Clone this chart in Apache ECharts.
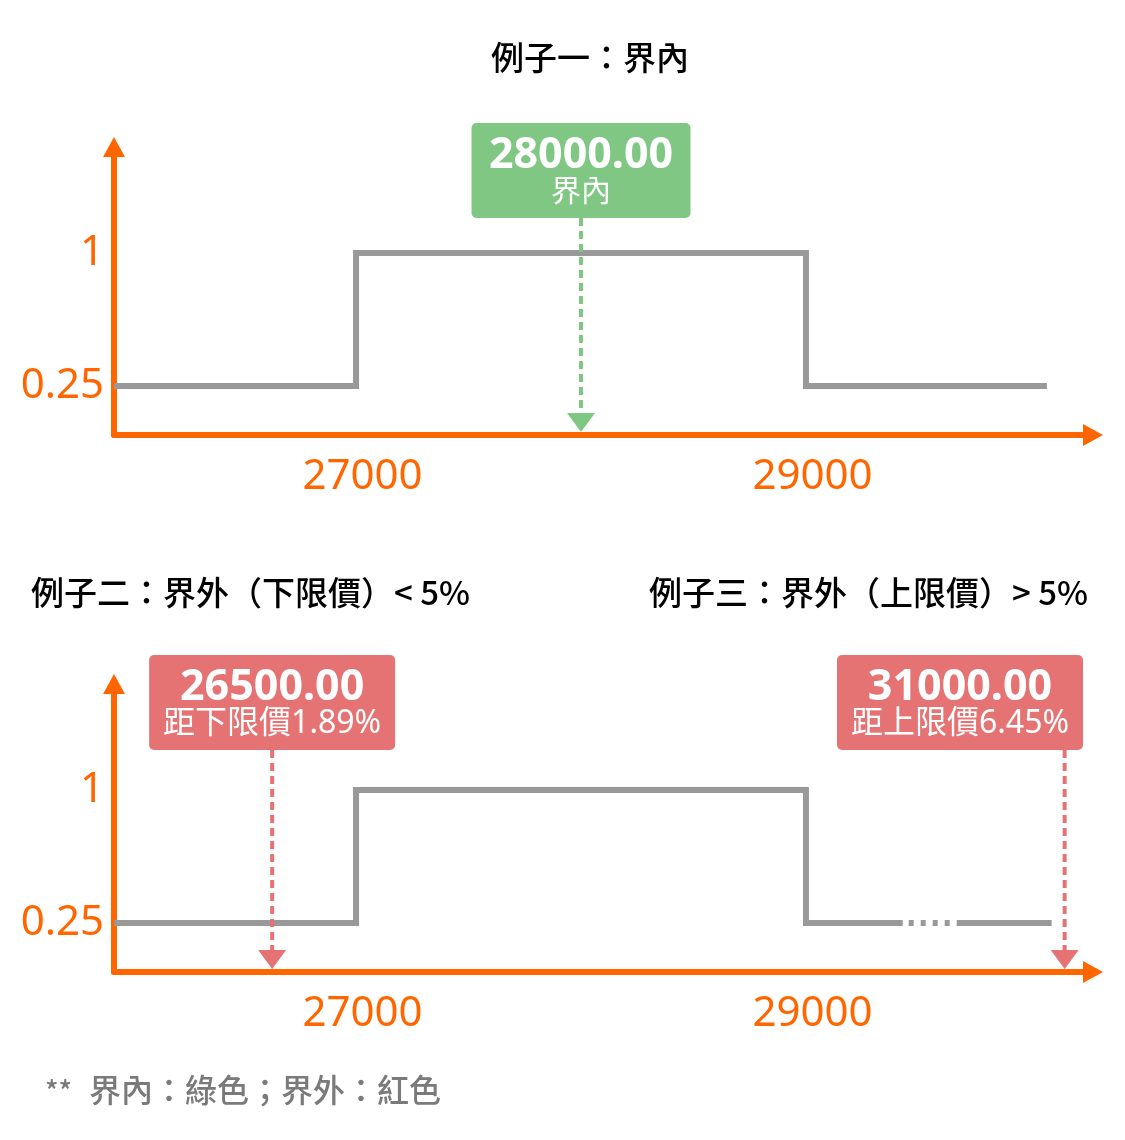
<!DOCTYPE html>
<html>
<head>
<meta charset="utf-8">
<script src="https://cdn.jsdelivr.net/npm/echarts@6/dist/echarts.min.js"></script>
<style>
  html, body { margin: 0; padding: 0; background: #ffffff; }
  #chart { width: 1125px; height: 1140px; }
</style>
</head>
<body>
<div id="chart"></div>
<script>
// Price band: inside [lower, upper] the score is 1, outside it is 0.25
const bandBounds = [27000, 29000];
const scoreTicks = [0.25, 1];

// Step profile of the score against price, one per panel
const topProfile = [[25924, 0.25], [27000, 0.25], [27000, 1], [29000, 1], [29000, 0.25], [30071, 0.25]];
const bottomProfile = [[25797, 0.25], [27000, 0.25], [27000, 1], [29000, 1], [29000, 0.25], [29430, 0.25]];
const bottomElided = [[29430, 0.25], [30520, 0.25]];
const bottomTail = [[30520, 0.25], [30942, 0.25]];

// Example prices pointed at on each panel
const topPrices = [28000];
const bottomPrices = [26500, 31000];

const ORANGE = '#FF6600';
const GREY = '#999999';
const GREEN = '#81C784';
const RED = '#E57373';
const LATIN = '"Noto Sans", "Noto Sans CJK TC", sans-serif';
const CJK = '"Noto Sans CJK TC", "Noto Sans", sans-serif';

function describe(price) {
  const lo = bandBounds[0], hi = bandBounds[1];
  if (price < lo) {
    return { color: RED, width: 246, tagSize: 32, tag: '距下限價' + ((lo - price) / price * 100).toFixed(2) + '%' };
  }
  if (price > hi) {
    return { color: RED, width: 246, tagSize: 32, tag: '距上限價' + ((price - hi) / price * 100).toFixed(2) + '%' };
  }
  return { color: GREEN, width: 219, tagSize: 30, tag: '界內' };
}

// Callout box + dashed pointer dropping onto the price axis
function markerRenderer(boxOffset, rightLimit) {
  return function (params, api) {
    const price = api.value(0);
    const cs = params.coordSys;
    const x = api.coord([price, 0])[0];
    const axisY = cs.y + cs.height;
    const d = describe(price);
    const boxH = 95;
    const boxTop = cs.y + boxOffset;
    let boxLeft = x - d.width / 2;
    if (boxLeft + d.width > rightLimit) boxLeft = rightLimit - d.width;
    const cx = boxLeft + d.width / 2;
    const tipY = axisY - 3;
    const triH = 19;
    return {
      type: 'group',
      children: [
        {
          type: 'line',
          shape: { x1: x, y1: boxTop + boxH, x2: x, y2: tipY - triH + 2 },
          style: { stroke: d.color, lineWidth: 4, lineDash: [8, 5] }
        },
        {
          type: 'polygon',
          shape: { points: [[x - 14, tipY - triH], [x + 14, tipY - triH], [x, tipY]] },
          style: { fill: d.color }
        },
        {
          type: 'rect',
          shape: { x: boxLeft, y: boxTop, width: d.width, height: boxH, r: 5 },
          style: { fill: d.color }
        },
        {
          type: 'text',
          x: cx, y: boxTop + 33,
          style: {
            text: price.toFixed(2), fill: '#ffffff',
            font: 'bold 43px ' + LATIN, align: 'center', verticalAlign: 'middle'
          }
        },
        {
          type: 'text',
          x: cx, y: boxTop + 69,
          style: {
            text: d.tag, fill: '#ffffff',
            font: d.tagSize + 'px ' + LATIN, align: 'center', verticalAlign: 'middle'
          }
        }
      ]
    };
  };
}

function priceAxis(gridIndex, min, max, extra) {
  return Object.assign({
    type: 'value', gridIndex: gridIndex, min: min, max: max,
    axisLine: {
      show: true, onZero: false, breakLine: false,
      symbol: ['none', 'triangle'], symbolSize: [22, 20],
      lineStyle: { color: ORANGE, width: 6 }
    },
    axisTick: { show: false },
    splitLine: { show: false },
    axisLabel: {
      customValues: bandBounds, color: ORANGE, fontSize: 42, fontFamily: LATIN,
      margin: 21, padding: [0, 0, 0, 13], formatter: function (v) { return String(v); }
    }
  }, extra || {});
}

function scoreAxis(gridIndex) {
  return {
    type: 'value', gridIndex: gridIndex, min: -0.0265, max: 1.5975,
    axisLine: {
      show: true, onZero: false,
      symbol: ['none', 'triangle'], symbolSize: [22, 20],
      lineStyle: { color: ORANGE, width: 6 }
    },
    axisTick: { show: false },
    splitLine: { show: false },
    axisLabel: {
      customValues: scoreTicks, color: ORANGE, fontSize: 42, fontFamily: LATIN,
      margin: 10, padding: [5, 0, 0, 0], formatter: function (v) { return String(v); }
    }
  };
}

function stepLine(xi, data, lineType, dashOffset) {
  return {
    type: 'line', xAxisIndex: xi, yAxisIndex: xi, data: data,
    symbol: 'none', silent: true, animation: false, z: 3,
    lineStyle: { color: GREY, width: 6, join: 'miter', type: lineType || 'solid', dashOffset: dashOffset || 0 }
  };
}

const chart = echarts.init(document.getElementById('chart'), null, { renderer: 'canvas' });

chart.setOption({
  backgroundColor: '#ffffff',
  animation: false,
  grid: [
    { left: 114, right: 32, top: 147, height: 288 },
    { left: 114, right: 32, top: 684, height: 288 }
  ],
  xAxis: [
    priceAxis(0, 25924, 30276),
    priceAxis(1, 25797, 31126, {
      breaks: [
        { start: 26700, end: 26827, gap: 0 },
        { start: 29430, end: 30520, gap: 240 }
      ],
      breakArea: { show: false }
    })
  ],
  yAxis: [scoreAxis(0), scoreAxis(1)],
  series: [
    stepLine(0, topProfile),
    stepLine(1, bottomProfile),
    stepLine(1, bottomElided, [5, 7], 6),
    stepLine(1, bottomTail),
    {
      type: 'custom', xAxisIndex: 0, yAxisIndex: 0, z: 10, silent: true,
      dimensions: ['price'], encode: { x: 0 },
      data: topPrices.map(function (p) { return [p]; }),
      renderItem: markerRenderer(-24, 1083)
    },
    {
      type: 'custom', xAxisIndex: 1, yAxisIndex: 1, z: 10, silent: true,
      dimensions: ['price'], encode: { x: 0 },
      data: bottomPrices.map(function (p) { return [p]; }),
      renderItem: markerRenderer(-29, 1083)
    }
  ],
  graphic: [
    {
      type: 'text', x: 590, y: 57,
      style: { text: '例子一：界內', fill: '#000000', font: '500 33px ' + CJK,
        align: 'center', textAlign: 'center', verticalAlign: 'middle', textVerticalAlign: 'middle' }
    },
    {
      type: 'text', x: 31, y: 592,
      style: { text: '例子二：界外（下限價）< 5%', fill: '#000000', font: '500 33px ' + CJK,
        verticalAlign: 'middle', textVerticalAlign: 'middle' }
    },
    {
      type: 'text', x: 649, y: 592,
      style: { text: '例子三：界外（上限價）> 5%', fill: '#000000', font: '500 33px ' + CJK,
        verticalAlign: 'middle', textVerticalAlign: 'middle' }
    },
    {
      type: 'text', x: 45, y: 1090,
      style: { text: '**', fill: '#7a7a7a', font: '500 28px ' + CJK,
        verticalAlign: 'middle', textVerticalAlign: 'middle' }
    },
    {
      type: 'text', x: 89, y: 1090,
      style: { text: '界內：綠色；界外：紅色', fill: '#7a7a7a', font: '500 32px ' + CJK,
        verticalAlign: 'middle', textVerticalAlign: 'middle' }
    }
  ]
});
</script>
</body>
</html>
